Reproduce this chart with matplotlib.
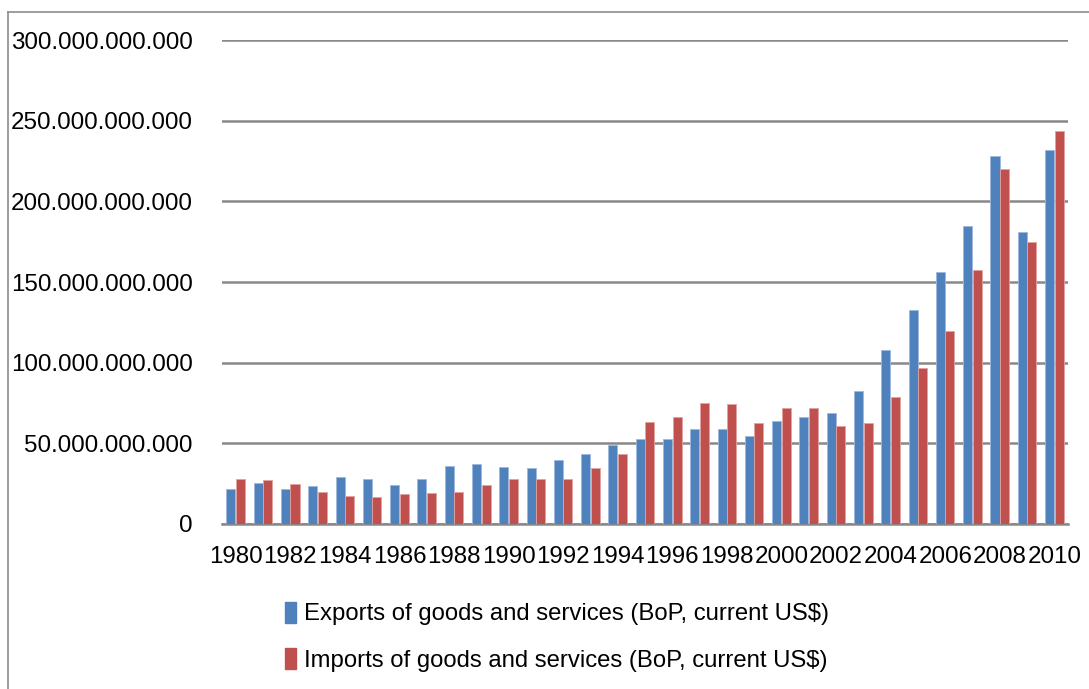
import matplotlib.pyplot as plt
import numpy as np
from matplotlib.lines import Line2D
from matplotlib.ticker import FuncFormatter

plt.rcParams['font.family'] = ['Liberation Sans', 'DejaVu Sans']

years = list(range(1980, 2011))
# values in billions of current US$
exports = [21.7, 25.6, 21.9, 23.6, 28.9, 27.7, 24.2, 28.1, 36.0, 37.4,
           35.1, 34.7, 39.7, 43.6, 49.0, 52.5, 52.5, 58.9, 58.7, 54.4,
           63.7, 66.3, 68.8, 82.5, 107.9, 132.9, 156.2, 184.6, 228.3, 180.8,
           231.9]
imports = [27.7, 27.1, 24.8, 19.6, 17.4, 16.7, 18.4, 19.2, 19.8, 24.2,
           28.1, 28.1, 27.9, 34.9, 43.3, 63.3, 66.1, 75.0, 74.4, 62.8,
           71.7, 71.7, 60.7, 62.6, 78.9, 96.7, 119.6, 157.7, 220.1, 174.6,
           243.6]
labels = ['Exports of goods and services (BoP, current US$)',
          'Imports of goods and services (BoP, current US$)']

blue = '#4F81BD'
red = '#C0504D'
grid_c = '#888888'

fig = plt.figure(figsize=(10.89, 6.89), dpi=100)
ax = fig.add_axes([222 / 1089, 1 - 524 / 689, 846 / 1089, 484 / 689])

x = np.arange(len(years))
w = 0.33
ex = np.array(exports) * 1e9
im = np.array(imports) * 1e9
ax.bar(x - w / 2 - 0.01, ex, w, color=blue, edgecolor='#9DB9DD', linewidth=0.6, zorder=3)
ax.bar(x + w / 2 + 0.01, im, w, color=red, edgecolor='#E2A3A1', linewidth=0.6, zorder=3)

ax.set_xlim(-0.5, len(years) - 0.5)
ax.set_ylim(0, 300e9)
ax.set_yticks(np.arange(0, 300e9 + 1, 50e9))
ax.yaxis.set_major_formatter(FuncFormatter(lambda v, p: f'{v:,.0f}'.replace(',', '.')))
ax.set_xticks(x[::2])
ax.set_xticklabels([str(y) for y in years[::2]])
ax.tick_params(axis='both', length=0, labelsize=17.4, colors='black')
ax.tick_params(axis='y', pad=21)
ax.tick_params(axis='x', pad=16)
ax.grid(axis='y', color=grid_c, linewidth=1.8, zorder=0)
for s in ['left', 'right', 'top']:
    ax.spines[s].set_visible(False)
ax.spines['bottom'].set_color(grid_c)
ax.spines['bottom'].set_linewidth(1.8)

handles = [plt.Rectangle((0, 0), 1, 1, color=blue), plt.Rectangle((0, 0), 1, 1, color=red)]
fig.legend(handles, labels, loc='upper left', bbox_to_anchor=(263 / 1089, 1 - 580 / 689),
           frameon=False, fontsize=17.2, handlelength=0.5, handleheight=1.0,
           handletextpad=0.3, labelspacing=0.95)

# outer chart frame
fig.add_artist(Line2D([8 / 1089, 8 / 1089], [0, 1 - 12 / 689], color='#8c8c8c', lw=1.2,
                      transform=fig.transFigure))
fig.add_artist(Line2D([8 / 1089, 1], [1 - 12 / 689, 1 - 12 / 689], color='#8c8c8c', lw=1.2,
                      transform=fig.transFigure))

fig.savefig('out.png', dpi=100)
